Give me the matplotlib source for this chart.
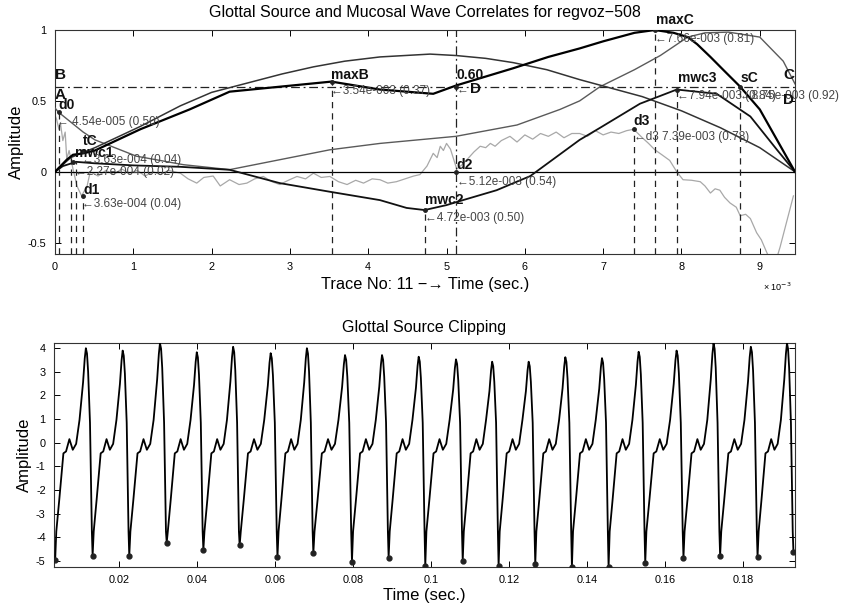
import matplotlib
matplotlib.use('Agg')
import matplotlib.pyplot as plt
import numpy as np

plt.rcParams['font.family'] = ['Liberation Sans', 'DejaVu Sans']
plt.rcParams['axes.unicode_minus'] = False

# ---------------- top panel data (x in units of 1e-3 s) ----------------
glottal_x = [0, 0.15, 0.23, 0.36, 0.51, 1.09, 1.72, 2.23, 2.87, 3.53, 4.15, 4.83, 5.13,
             5.85, 6.3, 6.7, 7.0, 7.4, 7.66, 7.9, 8.08, 8.2, 8.37, 8.55, 8.75, 9.0, 9.22, 9.45]
glottal_y = [0, 0.085, 0.12, 0.13, 0.15, 0.30, 0.44, 0.565, 0.60, 0.636, 0.58, 0.55, 0.61,
             0.73, 0.81, 0.87, 0.92, 0.98, 1.0, 0.98, 0.95, 0.90, 0.81, 0.71, 0.60, 0.44,
             0.225, 0.0]

arch_x = [0, 0.2, 0.51, 0.8, 1.09, 1.6, 2.0, 2.45, 2.9, 3.3, 3.7, 4.15, 4.79, 5.12, 5.5,
          5.85, 6.28, 6.7, 7.1, 7.5, 8.0, 8.5, 9.0, 9.45]
arch_y = [0, 0.10, 0.17, 0.245, 0.32, 0.465, 0.56, 0.625, 0.69, 0.74, 0.78, 0.81, 0.83,
          0.82, 0.80, 0.77, 0.72, 0.65, 0.59, 0.53, 0.43, 0.31, 0.17, 0.0]

mwc_x = [0, 0.1, 0.27, 0.5, 1.0, 1.6, 2.23, 2.87, 3.5, 4.15, 4.49, 4.72, 5.0, 5.21,
         5.64, 6.07, 6.7, 6.96, 7.47, 7.94, 8.45, 8.88, 9.22, 9.45]
mwc_y = [0, 0.04, 0.07, 0.06, 0.045, 0.035, 0.014, -0.08, -0.14, -0.2, -0.255, -0.27,
         -0.235, -0.2, -0.13, -0.03, 0.225, 0.31, 0.48, 0.58, 0.55, 0.39, 0.155, 0.0]

dcurve_x = [0, 0.045, 0.36, 0.51, 1.04, 1.64, 2.23, 2.87, 3.51, 4.15, 5.12, 5.9, 6.45,
            6.7, 6.96, 7.4, 7.73, 8.08, 8.3, 8.6, 9.0, 9.3, 9.45]
dcurve_y = [0.45, 0.42, 0.28, 0.225, 0.11, 0.05, 0.015, 0.085, 0.155, 0.2, 0.25, 0.33,
            0.44, 0.5, 0.6, 0.72, 0.82, 0.95, 0.98, 0.985, 0.95, 0.78, 0.62]

noisy_x = [0.0, 0.02, 0.05, 0.07, 0.1, 0.13, 0.15, 0.18, 0.23, 0.28, 0.34, 0.41, 0.45,
           0.55, 0.65, 0.75, 0.85, 0.95, 1.05, 1.15, 1.25, 1.35, 1.45, 1.6, 1.7, 1.81,
           1.9, 2.02, 2.11, 2.23, 2.35, 2.45, 2.55, 2.66, 2.77, 2.87, 2.98, 3.09, 3.2,
           3.3, 3.4, 3.51, 3.62, 3.73, 3.84, 3.94, 4.05, 4.15, 4.25, 4.36, 4.47, 4.58,
           4.66, 4.75, 4.83, 4.88, 4.92, 4.96, 5.0, 5.05, 5.09, 5.13, 5.2, 5.26, 5.35,
           5.43, 5.5, 5.56, 5.62, 5.7, 5.81, 5.9, 6.0, 6.1, 6.2, 6.3, 6.4, 6.5, 6.6,
           6.7, 6.8, 6.9, 7.0, 7.1, 7.2, 7.3, 7.39, 7.5, 7.58, 7.66, 7.75, 7.85, 7.94,
           8.02, 8.13, 8.24, 8.3, 8.37, 8.43, 8.49, 8.55, 8.62, 8.7, 8.75, 8.82, 8.88,
           8.96, 9.02, 9.09, 9.15, 9.2, 9.26, 9.34, 9.43]
noisy_y = [0.40, 0.37, 0.30, 0.34, 0.22, 0.28, 0.09, 0.15, 0.02, -0.10, -0.17, -0.10, 0.0,
           -0.03, 0.01, -0.02, 0.02, -0.01, 0.01, -0.03, 0.00, -0.02, 0.01, -0.01, -0.05,
           -0.08, -0.04, -0.03, -0.10, -0.056, -0.09, -0.08, -0.05, -0.033, -0.07, -0.09,
           -0.06, -0.033, -0.05, -0.01, -0.04, -0.033, -0.07, -0.09, -0.06, -0.08, -0.05,
           -0.056, -0.08, -0.07, -0.05, -0.03, -0.02, 0.04, 0.13, 0.10, 0.18, 0.15, 0.20,
           0.16, 0.09, 0.02, 0.05, 0.085, 0.14, 0.18, 0.17, 0.20, 0.18, 0.22, 0.25, 0.21,
           0.26, 0.23, 0.27, 0.25, 0.28, 0.24, 0.27, 0.27, 0.25, 0.29, 0.26, 0.28, 0.27,
           0.29, 0.30, 0.24, 0.20, 0.155, 0.12, 0.08, 0.0, -0.056, -0.06, -0.07, -0.10,
           -0.15, -0.12, -0.13, -0.18, -0.22, -0.25, -0.31, -0.30, -0.33, -0.43, -0.48,
           -0.57, -0.64, -0.64, -0.53, -0.36, -0.17]

vline_x = [0.045, 0.21, 0.27, 0.36, 3.54, 4.72, 7.39, 7.66, 7.94, 8.75]
vline_top = [0.42, 0.12, 0.07, -0.17, 0.636, -0.27, 0.30, 1.0, 0.58, 0.60]
d2_x = 5.12
level_060 = 0.60
x_end = 9.45

mark_x = [0.045, 0.36, 0.227, 0.36, 3.54, 5.12, 5.12, 4.72, 7.39, 7.66, 7.94, 8.75]
mark_y = [0.42, 0.15, 0.07, -0.17, 0.636, 0.60, 0.0, -0.27, 0.30, 1.0, 0.58, 0.60]

# name labels: (text, x, y)
name_labels = [("d0", 0.04, 0.42), ("tC", 0.36, 0.17), ("mwc1", 0.26, 0.085),
               ("d1", 0.36, -0.175), ("maxB", 3.53, 0.635), ("0.60", 5.13, 0.63),
               ("d2", 5.13, 0.0), ("mwc2", 4.72, -0.25), ("d3", 7.39, 0.31),
               ("maxC", 7.68, 1.02), ("mwc3", 7.96, 0.61), ("sC", 8.75, 0.61)]
# value labels: (text, x, y-centre)
value_labels = [("\u2190 4.54e-005 (0.50)", 0.03, 0.35),
                ("\u21903.63e-004 (0.04)", 0.34, 0.085),
                ("\u21902.27e-004 (0.02)", 0.26, 0.0),
                ("\u21903.63e-004 (0.04)", 0.34, -0.23),
                ("\u21903.54e-003 (0.37)", 3.53, 0.57),
                ("\u21905.12e-003 (0.54)", 5.13, -0.07),
                ("\u21904.72e-003 (0.50)", 4.72, -0.325),
                ("\u2190d3 7.39e-003 (0.78)", 7.39, 0.245),
                ("\u21907.66e-003 (0.81)", 7.66, 0.94),
                ("\u21907.94e-003 (0.84)", 7.94, 0.535),
                ("\u21908.75e-003 (0.92)", 8.75, 0.535)]
corner_labels = [("B", 0.0, 0.63), ("A", 0.0, 0.49), ("C", 9.3, 0.63), ("D", 9.3, 0.46)]
mid_D = ("D", 5.3, 0.585)
arrow_D = ("\u2190", 5.13, 0.585)

# ---------------- bottom panel data ----------------
min_t = [0.0036, 0.0132, 0.0226, 0.0322, 0.0416, 0.0509, 0.0606, 0.0698, 0.0797, 0.0891,
         0.0985, 0.1081, 0.1173, 0.1267, 0.1361, 0.1455, 0.1549, 0.1647, 0.1741, 0.1837,
         0.1929]
min_v = [-4.95, -4.78, -4.78, -4.22, -4.52, -4.34, -4.83, -4.66, -5.02, -4.85, -5.2,
         -4.99, -5.2, -5.13, -5.25, -5.25, -5.08, -4.85, -4.78, -4.81, -4.62]
peak_v = [3.99, 3.89, 4.2, 3.82, 4.05, 3.78, 3.99, 3.70, 3.70, 3.63, 3.52, 3.42, 3.42,
          3.61, 3.57, 3.84, 3.89, 4.2, 4.05, 4.2]
# one cycle: fraction of period, value (typical peak 3.92)
cyc_frac = [0.03, 0.11, 0.22, 0.29, 0.38, 0.47, 0.56, 0.65, 0.745, 0.79, 0.82, 0.85,
            0.88, 0.93, 0.98]
cyc_val = [-3.75, -2.4, -0.45, -0.37, 0.15, -0.3, -0.05, 0.96, 2.5, 3.5, 3.92, 3.7,
           2.95, 0.84, -3.75]
cyc_ref_peak = 3.92

wt, wv = [], []
for i in range(len(min_t) - 1):
    t0, t1 = min_t[i], min_t[i + 1]
    wt.append(t0); wv.append(min_v[i])
    for f, v in zip(cyc_frac, cyc_val):
        wt.append(t0 + f * (t1 - t0))
        wv.append(v * peak_v[i] / cyc_ref_peak if v > 1 else v)
wt.append(min_t[-1]); wv.append(min_v[-1])

# ---------------- figure ----------------
fig = plt.figure(figsize=(8.47, 6.04), dpi=100)
ax1 = fig.add_axes([55/847, 1-254/604, 740/847, 224/604])
ax2 = fig.add_axes([54/847, 1-567/604, 741/847, 224/604])

ax1.plot(noisy_x, noisy_y, color='#a8a8a8', lw=0.9, zorder=2)
ax1.axhline(0, color='black', lw=0.9, zorder=3)
ax1.plot([0, x_end], [level_060, level_060], color='#222', lw=0.9, ls=(0, (7, 3, 1.5, 3)), zorder=3)
ax1.axvline(d2_x, color='#222', lw=0.9, ls=(0, (7, 3, 1.5, 3)), zorder=3)
for vx, vt in zip(vline_x, vline_top):
    ax1.plot([vx, vx], [-0.58, vt], color='#222', lw=0.9, ls=(0, (5, 4)), zorder=3)
ax1.plot(dcurve_x, dcurve_y, color='#5a5a5a', lw=1.0, zorder=4)
ax1.plot(arch_x, arch_y, color='#333', lw=1.1, zorder=4)
ax1.plot(mwc_x, mwc_y, color='#111', lw=1.3, zorder=5)
ax1.plot(glottal_x, glottal_y, color='black', lw=1.6, zorder=6)
ax1.plot(mark_x, mark_y, 'o', color='#222', ms=2.5, zorder=7)

for t, x, y in name_labels:
    ax1.text(x, y, t, fontsize=10, fontweight='bold', color='#111', ha='left', va='bottom', zorder=8)
for t, x, y in value_labels:
    ax1.text(x, y, t, fontsize=8.5, color='#444', ha='left', va='center', zorder=8, clip_on=False)
for t, x, y in corner_labels:
    ax1.text(x, y, t, fontsize=11, fontweight='bold', color='#111', ha='left', va='bottom', zorder=8)
ax1.text(arrow_D[1], arrow_D[2], arrow_D[0], fontsize=8.5, color='#444', ha='left', va='center', zorder=8)
ax1.text(mid_D[1], mid_D[2], mid_D[0], fontsize=11, fontweight='bold', color='#111', ha='left', va='center', zorder=8)

ax1.set_xlim(0, 9.45)
ax1.set_ylim(-0.58, 1.0)
ax1.set_xticks(range(0, 10))
ax1.set_yticks([-0.5, 0, 0.5, 1])
ax1.set_yticklabels(['-0.5', '0', '0.5', '1'])
ax1.set_title('Glottal Source and Mucosal Wave Correlates for regvoz\u2212508', fontsize=11.5, pad=9)
ax1.set_xlabel('Trace No: 11 \u2212\u2192 Time (sec.)', fontsize=11.7, labelpad=3)
ax1.set_ylabel('Amplitude', fontsize=12, labelpad=3)
ax1.text(0.995, -0.12, '\u00d7 10$^{-3}$', transform=ax1.transAxes, fontsize=6.5, ha='right', va='top')

ax2.plot(wt, wv, color='black', lw=1.3, zorder=3)
ax2.plot(min_t, min_v, 'o', color='#222', ms=3.5, zorder=4)
ax2.set_xlim(0.0033, 0.1933)
ax2.set_ylim(-5.25, 4.21)
ax2.set_xticks([0.02, 0.04, 0.06, 0.08, 0.1, 0.12, 0.14, 0.16, 0.18])
ax2.set_xticklabels(['0.02', '0.04', '0.06', '0.08', '0.1', '0.12', '0.14', '0.16', '0.18'])
ax2.set_yticks(range(-5, 5))
ax2.set_title('Glottal Source Clipping', fontsize=11.5, pad=8)
ax2.set_xlabel('Time (sec.)', fontsize=12, labelpad=2)
ax2.set_ylabel('Amplitude', fontsize=12, labelpad=3)

for ax in (ax1, ax2):
    ax.tick_params(direction='in', top=True, right=True, length=4, width=0.7,
                   labelsize=7.8, pad=6)
    for s in ax.spines.values():
        s.set_linewidth(0.8)
        s.set_color('#333')

fig.savefig('out.png', dpi=100)
